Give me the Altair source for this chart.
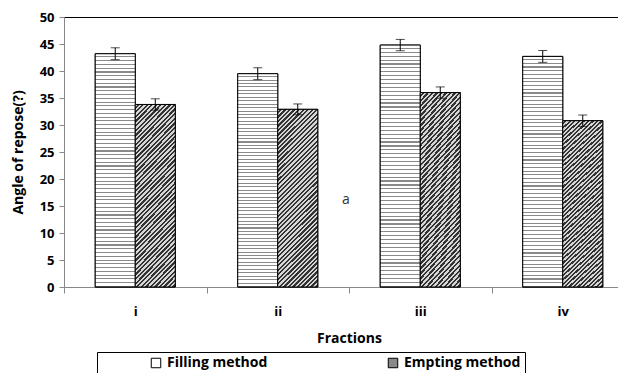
import altair as alt
import pandas as pd

fractions = ["i", "ii", "iii", "iv"]
methods = ["Filling method", "Empting method"]
filling = [43.2, 39.5, 44.8, 42.7]
empting = [33.8, 32.9, 36.0, 30.8]
filling_err = [1.1, 1.1, 1.05, 1.1]
empting_err = [1.05, 1.0, 1.05, 1.05]
note_text = ["a"]
note_value = [16.1]
y_ticks = [0, 5, 10, 15, 20, 25, 30, 35, 40, 45, 50]

rows = []
for i, f in enumerate(fractions):
    rows.append(dict(fraction=f, method=methods[0], value=filling[i], err=filling_err[i]))
    rows.append(dict(fraction=f, method=methods[1], value=empting[i], err=empting_err[i]))
df = pd.DataFrame(rows)
df["lo"] = df["value"] - df["err"]
df["hi"] = df["value"] + df["err"]


def stripe_stops(n, bg, line, frac):
    stops = []
    for k in range(n):
        a = k / n
        b = (k + 1 - frac) / n
        c = (k + 1) / n
        stops += [
            {"offset": a, "color": bg},
            {"offset": b, "color": bg},
            {"offset": b, "color": line},
            {"offset": c, "color": line},
        ]
    return stops


grad_fill = {"gradient": "linear", "x1": 0, "y1": 0, "x2": 0, "y2": 1,
             "stops": stripe_stops(62, "#ffffff", "#8a8a8a", 0.3)}
grad_empt = {"gradient": "linear", "x1": 0, "y1": 0, "x2": 0.26, "y2": 1.16,
             "stops": stripe_stops(48, "#d6d6d6", "#333333", 0.5)}

FONT = "Open Sans"

x_enc = alt.X("fraction:N", sort=fractions,
              scale=alt.Scale(paddingInner=0, paddingOuter=0),
              axis=alt.Axis(title="Fractions", labelAngle=0, tickBand="extent",
                            tickSize=6, tickColor="#888", domainColor="#888",
                            labelFont=FONT, labelFontSize=13, labelFontWeight="bold",
                            labelColor="black", labelPadding=12,
                            titleFont=FONT, titleFontSize=14, titleFontWeight="bold",
                            titleColor="black", titlePadding=13))
xo_enc = alt.XOffset("method:N", sort=methods, scale=alt.Scale(paddingOuter=0.78, paddingInner=0))
y_scale = alt.Scale(domain=[0, 50], nice=False)
y_axis = alt.Axis(values=y_ticks, grid=False, tickSize=5, tickColor="#888",
                  domainColor="#888", labelFont=FONT, labelFontSize=13,
                  labelFontWeight="bold", labelColor="black", labelPadding=5,
                  labelOverlap=False,
                  title="Angle of repose(?)", titleFont=FONT, titleFontSize=14,
                  titleFontWeight="bold", titleColor="black", titlePadding=14)

base = alt.Chart(df).encode(x=x_enc, xOffset=xo_enc)

legend_bars = base.mark_bar(stroke="black", strokeWidth=1).encode(
    y=alt.Y("value:Q", scale=y_scale, axis=y_axis),
    fill=alt.Fill("method:N", sort=methods,
                  scale=alt.Scale(domain=methods, range=["#ffffff", "#888888"]),
                  legend=alt.Legend(title=None, orient="none", direction="horizontal",
                                    legendX=33, legendY=335, columns=2,
                                    columnPadding=70, strokeColor="black",
                                    padding=4, symbolType="square", symbolSize=90,
                                    symbolStrokeColor="black", symbolStrokeWidth=1,
                                    symbolOffset=48,
                                    labelFont=FONT, labelFontSize=14,
                                    labelFontWeight="bold", labelColor="black")),
)

pattern_bars = base.mark_bar(stroke="black", strokeWidth=1).encode(
    y=alt.Y("value:Q", scale=y_scale, axis=y_axis),
    fill=alt.condition("datum.method === 'Filling method'", alt.value(grad_fill), alt.value(grad_empt)),
)

err_rule = base.mark_rule(color="black", strokeWidth=1).encode(
    y=alt.Y("lo:Q", scale=y_scale, axis=y_axis), y2="hi:Q")
cap_hi = base.mark_tick(color="black", size=9, thickness=1).encode(
    y=alt.Y("hi:Q", scale=y_scale, axis=y_axis))
cap_lo = base.mark_tick(color="black", size=9, thickness=1).encode(
    y=alt.Y("lo:Q", scale=y_scale, axis=y_axis))

note = alt.Chart(pd.DataFrame({"label": note_text, "v": note_value})).mark_text(
    font=FONT, fontSize=14, color="#333").encode(
    x=alt.value(282), y=alt.Y("v:Q", scale=y_scale, axis=y_axis), text="label:N")

chart = alt.layer(legend_bars, pattern_bars, err_rule, cap_hi, cap_lo, note).properties(
    width=570, height=270,
    autosize=alt.AutoSizeParams(type="none"),
    padding={"left": 56, "top": 9, "right": -16, "bottom": 86},
).configure_view(stroke="black", strokeWidth=1)

chart.save("out.html", embed_options={"renderer": "svg", "actions": False})
